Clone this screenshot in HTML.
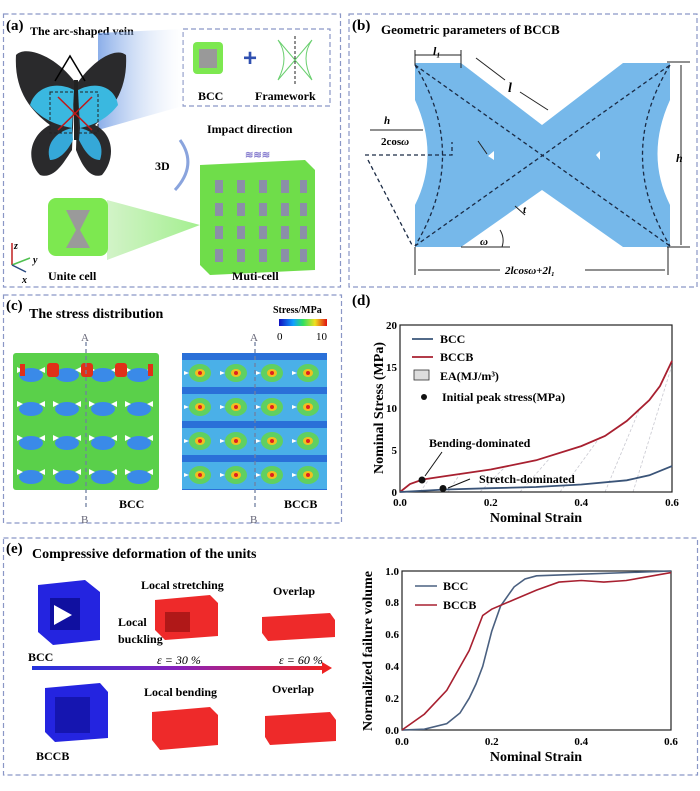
<!DOCTYPE html>
<html><head><meta charset="utf-8"><style>
body{margin:0;background:#fff;}
svg{display:block;font-family:"Liberation Serif",serif;font-weight:bold;}
</style></head><body>
<svg width="700" height="791" viewBox="0 0 700 791" xmlns="http://www.w3.org/2000/svg">
<defs>
<linearGradient id="arr" x1="0" x2="1"><stop offset="0" stop-color="#2233dd"/><stop offset="0.5" stop-color="#8822bb"/><stop offset="1" stop-color="#ee2222"/></linearGradient>
<linearGradient id="cbar" x1="0" x2="1"><stop offset="0" stop-color="#1010c0"/><stop offset="0.3" stop-color="#10a0ff"/><stop offset="0.5" stop-color="#30e060"/><stop offset="0.75" stop-color="#f0e020"/><stop offset="1" stop-color="#e01010"/></linearGradient>
<linearGradient id="beam" x1="0" x2="1"><stop offset="0" stop-color="#5a8ce0"/><stop offset="1" stop-color="#ffffff" stop-opacity="0.3"/></linearGradient>
<linearGradient id="gbeam" x1="0" x2="1"><stop offset="0" stop-color="#bfeeb0"/><stop offset="1" stop-color="#7de860"/></linearGradient>
<pattern id="bccp" width="36" height="34" patternUnits="userSpaceOnUse" x="13" y="353">
<rect width="36" height="34" fill="#5ad04a"/>
<ellipse cx="18" cy="22" rx="12" ry="7" fill="#3a8ae8"/>
<polygon points="4,14 10,17 4,20" fill="#fff"/><polygon points="32,14 26,17 32,20" fill="#fff"/>
</pattern>
<pattern id="bccbp" width="36" height="34" patternUnits="userSpaceOnUse" x="182" y="353">
<rect width="36" height="34" fill="#4ab0e8"/>
<rect x="0" y="0" width="36" height="7" fill="#2a70d8"/>
<ellipse cx="18" cy="20" rx="11" ry="9" fill="#60d060"/>
<ellipse cx="18" cy="20" rx="5" ry="4" fill="#f0c020"/>
<circle cx="18" cy="20" r="2" fill="#e02020"/>
<polygon points="2,18 7,20 2,22" fill="#fff"/>
</pattern>
</defs>

<!-- panel borders -->
<g fill="none" stroke="#8a97c6" stroke-width="1.2" stroke-dasharray="5,3">
<rect x="3.5" y="14" width="337" height="273"/>
<rect x="349" y="14" width="348" height="273"/>
<rect x="3.5" y="295" width="338" height="228"/>
<rect x="3.5" y="538" width="694" height="237"/>
<rect x="183" y="29" width="147" height="77"/>
</g>

<!-- (a) -->
<text x="6" y="30" font-size="15">(a)</text>
<text x="30" y="35" font-size="12">The arc-shaped vein</text>
<polygon points="98,33 183,29 183,106 98,130" fill="url(#beam)" opacity="0.7"/>
<!-- butterfly -->
<path d="M75,82 C55,55 25,45 16,55 C14,90 30,110 50,125 C30,135 25,160 40,175 C55,180 65,160 72,150 Z" fill="#2a2a2c"/>
<path d="M78,82 C98,55 118,48 126,55 C128,90 112,110 95,125 C115,135 115,160 102,175 C88,180 80,160 76,150 Z" fill="#2a2a2c"/>
<path d="M74,90 C55,80 35,88 30,105 C40,118 55,125 72,128 Z" fill="#3ab8e0"/>
<path d="M78,90 C98,80 115,88 118,105 C108,118 95,125 80,128 Z" fill="#3ab8e0"/>
<path d="M72,128 C55,132 45,145 50,160 C60,160 68,150 73,140 Z" fill="#35a8d8"/>
<path d="M80,128 C97,132 105,145 100,160 C90,160 84,150 79,140 Z" fill="#35a8d8"/>
<rect x="74" y="80" width="4" height="60" fill="#222"/>
<polyline points="55,81 70,56 85,81" fill="none" stroke="#000" stroke-width="1.5"/>
<rect x="50" y="92" width="48" height="41" fill="none" stroke="#222" stroke-dasharray="3,2"/>
<path d="M58,97 L92,130 M92,97 L58,130" stroke="#c01818" stroke-width="1.5"/>
<!-- BCC icon -->
<rect x="193" y="42" width="30" height="32" rx="4" fill="#7de850"/><rect x="199" y="49" width="18" height="19" fill="#999"/>
<text x="243" y="66" font-size="24" fill="#3050b0" font-family="Liberation Sans">+</text>
<path d="M278,40 Q290,57 278,80 M312,40 Q300,57 312,80 M278,40 L312,80 M312,40 L278,80" stroke="#6bd070" fill="none"/>
<line x1="295" y1="36" x2="295" y2="86" stroke="#222" stroke-dasharray="3,2"/>
<text x="198" y="100" font-size="12">BCC</text>
<text x="255" y="100" font-size="12">Framework</text>
<text x="207" y="133" font-size="12">Impact direction</text>
<path d="M180,140 Q198,165 175,190" fill="none" stroke="#8aa4dd" stroke-width="3"/>
<text x="155" y="170" font-size="12">3D</text>
<!-- multi-cell -->
<polygon points="200,165 305,160 315,170 315,270 210,275 200,265" fill="#6fdd4a"/>
<g fill="#8b8fa8"><rect x="215" y="180" width="8" height="13"/><rect x="237" y="180" width="8" height="13"/><rect x="259" y="180" width="8" height="13"/><rect x="281" y="180" width="8" height="13"/><rect x="300" y="180" width="7" height="13"/>
<rect x="215" y="203" width="8" height="13"/><rect x="237" y="203" width="8" height="13"/><rect x="259" y="203" width="8" height="13"/><rect x="281" y="203" width="8" height="13"/><rect x="300" y="203" width="7" height="13"/>
<rect x="215" y="226" width="8" height="13"/><rect x="237" y="226" width="8" height="13"/><rect x="259" y="226" width="8" height="13"/><rect x="281" y="226" width="8" height="13"/><rect x="300" y="226" width="7" height="13"/>
<rect x="215" y="249" width="8" height="13"/><rect x="237" y="249" width="8" height="13"/><rect x="259" y="249" width="8" height="13"/><rect x="281" y="249" width="8" height="13"/><rect x="300" y="249" width="7" height="13"/></g>
<text x="245" y="158" font-size="10" fill="#8a80d0">≋≋≋</text>
<polygon points="107,200 200,225 107,260" fill="url(#gbeam)" opacity="0.7"/>
<rect x="48" y="198" width="60" height="58" rx="8" fill="#7de850"/>
<polygon points="66,210 90,210 80,230 90,248 66,248 76,230" fill="#9a9a9a"/>
<text x="48" y="280" font-size="12">Unite cell</text>
<text x="232" y="280" font-size="12">Muti-cell</text>
<line x1="12" y1="265" x2="12" y2="243" stroke="#c02020" stroke-width="1.5"/>
<line x1="12" y1="265" x2="30" y2="258" stroke="#50c050" stroke-width="1.5"/>
<line x1="12" y1="265" x2="26" y2="272" stroke="#2a4a80" stroke-width="1.5"/>
<text x="14" y="249" font-size="10" font-style="italic">z</text><text x="33" y="263" font-size="10" font-style="italic">y</text><text x="22" y="283" font-size="10" font-style="italic">x</text>

<!-- (b) -->
<text x="352" y="30" font-size="15">(b)</text>
<text x="381" y="34" font-size="13">Geometric parameters of BCCB</text>
<path d="M415,63 L461,63 L542,125 L623,63 L670,63 L670,100 Q645,155 670,205 L670,247 L623,247 L542,190 L461,247 L415,247 L415,205 Q440,155 415,100 Z" fill="#76b8ea"/>
<g fill="none" stroke="#1a2a44" stroke-width="1.3" stroke-dasharray="4,3">
<line x1="415" y1="65" x2="670" y2="246"/><line x1="415" y1="246" x2="670" y2="65"/>
<path d="M415,65 Q470,155 415,246"/><path d="M670,65 Q615,155 670,246"/>
<polyline points="365,155 365,155 452,155 452,142"/>
<line x1="368" y1="160" x2="412" y2="245"/>
</g>
<polygon points="488,156 494,151 494,160" fill="#fff"/><polygon points="600,151 596,155 600,160" fill="#fff"/>
<g stroke="#222" stroke-width="1" fill="none">
<line x1="415" y1="50" x2="415" y2="65"/><line x1="461" y1="50" x2="461" y2="68"/><line x1="415" y1="55" x2="461" y2="55"/>
<line x1="476" y1="58" x2="505" y2="80"/><line x1="520" y1="92" x2="548" y2="110"/>
<line x1="667" y1="62" x2="690" y2="62"/><line x1="667" y1="247" x2="690" y2="247"/><line x1="681" y1="65" x2="681" y2="245"/>
<line x1="415" y1="247" x2="415" y2="275"/><line x1="668" y1="247" x2="668" y2="275"/>
<line x1="418" y1="270" x2="500" y2="270"/><line x1="585" y1="270" x2="665" y2="270"/>
<line x1="461" y1="247" x2="510" y2="247"/><path d="M500,230 Q505,238 502,247"/>
<line x1="370" y1="130" x2="423" y2="130"/>
<line x1="525" y1="215" x2="515" y2="206"/><line x1="478" y1="141" x2="487" y2="154"/>
</g>
<text x="433" y="55" font-size="12" font-style="italic">l₁</text>
<text x="508" y="92" font-size="14" font-style="italic">l</text>
<text x="384" y="124" font-size="11" font-style="italic">h</text>
<text x="381" y="145" font-size="11">2cos<tspan font-style="italic">ω</tspan></text>
<text x="676" y="162" font-size="12" font-style="italic">h</text>
<text x="523" y="213" font-size="11" font-style="italic">t</text>
<text x="480" y="245" font-size="11" font-style="italic">ω</text>
<text x="505" y="274" font-size="11" font-style="italic">2lcosω+2l₁</text>

<!-- (c) -->
<text x="6" y="310" font-size="15">(c)</text>
<text x="29" y="318" font-size="14">The stress distribution</text>
<text x="273" y="313" font-size="10">Stress/MPa</text>
<rect x="279" y="319" width="48" height="7" fill="url(#cbar)"/>
<text x="277" y="340" font-size="11" font-weight="normal">0</text><text x="316" y="340" font-size="11" font-weight="normal">10</text>
<rect x="13" y="353" width="146" height="137" rx="3" fill="url(#bccp)"/>
<g fill="#e03018"><rect x="47" y="363" width="12" height="14" rx="3"/><rect x="81" y="363" width="12" height="14" rx="3"/><rect x="115" y="363" width="12" height="14" rx="3"/><rect x="20" y="364" width="5" height="12"/><rect x="148" y="364" width="5" height="12"/></g>
<rect x="182" y="353" width="145" height="137" fill="url(#bccbp)"/>
<g stroke="#7080a0" stroke-dasharray="4,3" stroke-width="1.3"><line x1="86" y1="342" x2="86" y2="510"/><line x1="255" y1="342" x2="255" y2="510"/></g>
<text x="81" y="341" font-size="11" font-weight="normal" fill="#667">A</text><text x="250" y="341" font-size="11" font-weight="normal" fill="#667">A</text>
<text x="81" y="523" font-size="11" font-weight="normal" fill="#667">B</text><text x="250" y="523" font-size="11" font-weight="normal" fill="#667">B</text>
<text x="119" y="508" font-size="12">BCC</text><text x="284" y="508" font-size="12">BCCB</text>

<!-- (d) -->
<text x="352" y="305" font-size="15">(d)</text>
<g stroke="#c8c8d0" stroke-dasharray="3,2" stroke-width="0.8">
<line x1="420" y1="492" x2="430" y2="478"/><line x1="448" y1="492" x2="460" y2="474"/><line x1="480" y1="492" x2="505" y2="467"/><line x1="520" y1="492" x2="550" y2="458"/><line x1="560" y1="492" x2="600" y2="437"/><line x1="605" y1="492" x2="640" y2="408"/><line x1="633" y1="492" x2="672" y2="365"/>
</g>
<rect x="400" y="325" width="272" height="167" fill="none" stroke="#222" stroke-width="1.2"/>
<polyline fill="none" stroke="#a82030" stroke-width="1.8" points="400,492 410,484 422.7,479.5 445.3,476.1 490.7,469.5 536,460.3 581.3,446.1 605,436 626.7,421 649.3,400.2 660,386 672,360.9"/>
<polyline fill="none" stroke="#3a5478" stroke-width="1.8" points="400,492 445.3,489.5 490.7,488.2 536,487 581.3,484.5 626.7,480.3 649.3,475.3 672,466.1"/>
<circle cx="422" cy="480" r="3.5" fill="#111"/><circle cx="443" cy="488.5" r="3.5" fill="#111"/>
<g stroke="#111" stroke-width="1"><line x1="442" y1="452" x2="425" y2="476"/><line x1="470" y1="479" x2="448" y2="488"/></g>
<text x="429" y="447" font-size="12">Bending-dominated</text>
<text x="479" y="483" font-size="12">Stretch-dominated</text>
<line x1="412" y1="339" x2="433" y2="339" stroke="#3a5478" stroke-width="1.8"/><text x="440" y="343" font-size="12">BCC</text>
<line x1="412" y1="357" x2="433" y2="357" stroke="#a82030" stroke-width="1.8"/><text x="440" y="361" font-size="12">BCCB</text>
<rect x="414" y="370" width="15" height="10" fill="#ddd" stroke="#333" stroke-width="0.8"/><text x="440" y="380" font-size="12">EA(MJ/m³)</text>
<circle cx="424" cy="397" r="3" fill="#111"/><text x="442" y="401" font-size="12">Initial peak stress(MPa)</text>
<g font-size="11" text-anchor="end"><text x="397" y="496">0</text><text x="397" y="454">5</text><text x="397" y="412">10</text><text x="397" y="371">15</text><text x="397" y="329">20</text></g>
<g font-size="11" text-anchor="middle"><text x="400" y="506">0.0</text><text x="490.7" y="506">0.2</text><text x="581.3" y="506">0.4</text><text x="672" y="506">0.6</text></g>
<text x="536" y="522" font-size="14" text-anchor="middle">Nominal Strain</text>
<text transform="translate(383,408) rotate(-90)" font-size="14" text-anchor="middle">Nominal Stress (MPa)</text>

<!-- (e) -->
<text x="6" y="553" font-size="15">(e)</text>
<text x="32" y="558" font-size="14">Compressive deformation of the units</text>
<polygon points="38,585 85,580 100,592 100,640 53,645 38,632" fill="#2424e0"/><rect x="50" y="598" width="30" height="32" fill="#1010a0"/><polygon points="54,605 72,615 54,625" fill="#fff"/>
<text x="28" y="661" font-size="12">BCC</text>
<polygon points="155,600 210,595 218,603 218,636 165,640 155,630" fill="#ee2a2a"/><rect x="165" y="612" width="25" height="20" fill="#b01818"/>
<polygon points="262,617 330,613 335,620 335,637 268,641 262,633" fill="#ee2a2a"/>
<text x="141" y="589" font-size="12">Local stretching</text>
<text x="118" y="626" font-size="12">Local</text><text x="118" y="643" font-size="12">buckling</text>
<text x="273" y="595" font-size="12">Overlap</text>
<text x="157" y="664" font-size="12" font-style="italic" font-weight="normal">ε = 30 %</text>
<text x="279" y="664" font-size="12" font-style="italic" font-weight="normal">ε = 60 %</text>
<rect x="32" y="666" width="292" height="4" fill="url(#arr)"/><polygon points="322,662 332,668 322,674" fill="#ee2222"/>
<polygon points="45,688 100,683 108,692 108,738 55,742 45,732" fill="#2424e0"/><rect x="55" y="697" width="35" height="36" fill="#1515b0"/>
<text x="36" y="760" font-size="12">BCCB</text>
<text x="144" y="696" font-size="12">Local bending</text>
<polygon points="152,712 210,707 218,715 218,745 160,750 152,740" fill="#ee2a2a"/>
<text x="272" y="693" font-size="12">Overlap</text>
<polygon points="265,716 330,712 336,720 336,741 270,745 265,737" fill="#ee2a2a"/>
<rect x="402" y="571" width="269" height="159" fill="none" stroke="#222" stroke-width="1.2"/>
<polyline fill="none" stroke="#4a6080" stroke-width="1.6" points="402,730 424.4,729.2 446.8,723.6 460,713 469.2,698.2 476,684 482.7,666.4 491.7,631.4 500.6,606 514.1,586.9 525,579 536.5,575.8 581.3,574.2 671,571"/>
<polyline fill="none" stroke="#a82030" stroke-width="1.6" points="402,730 424.4,714.1 446.8,690.3 469.2,650.5 482.7,615.5 491.7,609.2 514.1,599.6 536.5,590.1 558.9,582.1 581.3,580.5 603.8,582.1 626.2,580.5 671,572.6"/>
<line x1="415" y1="586" x2="437" y2="586" stroke="#4a6080" stroke-width="1.6"/><text x="443" y="590" font-size="12">BCC</text>
<line x1="415" y1="605" x2="437" y2="605" stroke="#a82030" stroke-width="1.6"/><text x="443" y="609" font-size="12">BCCB</text>
<g font-size="11" text-anchor="end"><text x="399" y="734">0.0</text><text x="399" y="702">0.2</text><text x="399" y="670">0.4</text><text x="399" y="638">0.6</text><text x="399" y="606">0.8</text><text x="399" y="575">1.0</text></g>
<g font-size="11" text-anchor="middle"><text x="402" y="745">0.0</text><text x="491.7" y="745">0.2</text><text x="581.3" y="745">0.4</text><text x="671" y="745">0.6</text></g>
<text x="536" y="761" font-size="14" text-anchor="middle">Nominal Strain</text>
<text transform="translate(372,651) rotate(-90)" font-size="14" text-anchor="middle">Normalized failure volume</text>
</svg>
</body></html>
